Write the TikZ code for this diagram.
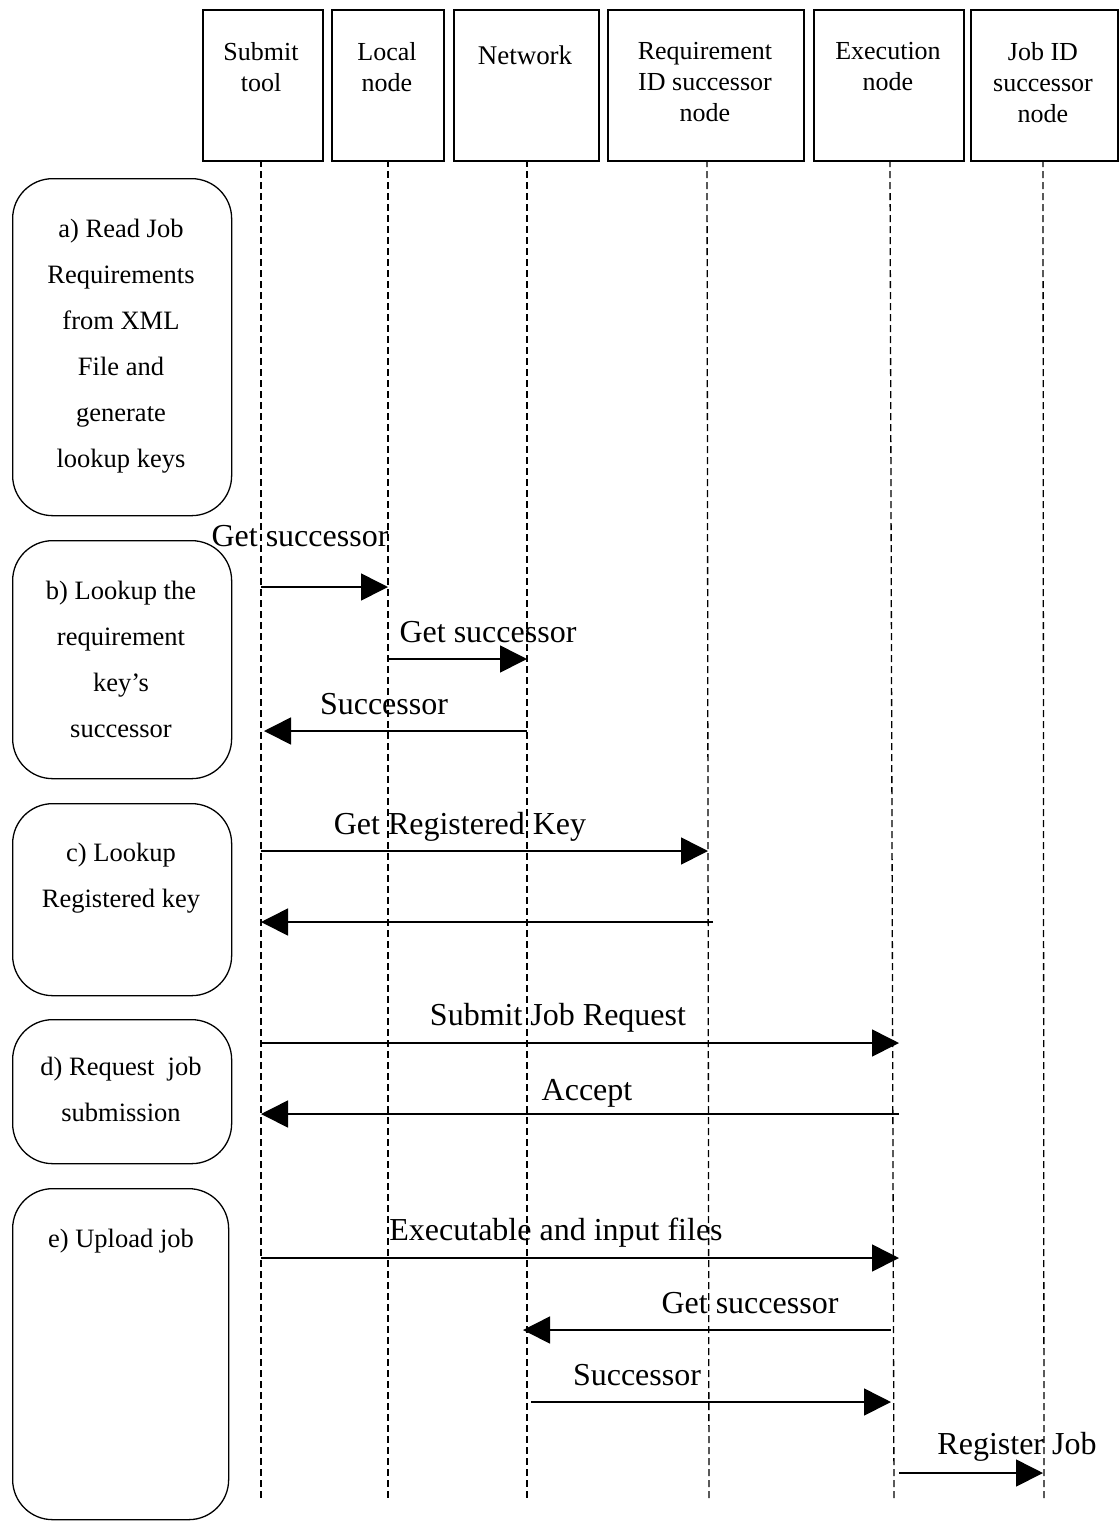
\documentclass[tikz,border=0pt]{standalone}
\usepackage{fontspec}
\setmainfont{Liberation Serif}
\usetikzlibrary{arrows.meta}
\begin{document}
\begin{tikzpicture}[x=1pt,y=-1pt,
  hdr/.style={draw,line width=1.6pt,anchor=north west,inner sep=0pt},
  htxt/.style={font=\fontsize{26}{31}\selectfont,align=center,anchor=north},
  life/.style={line width=1.3pt,dash pattern=on 7pt off 4pt},
  phase/.style={draw,line width=1.3pt,rounded corners=40pt,anchor=north west,inner sep=0pt},
  ptxt/.style={font=\fontsize{26.5}{46}\selectfont,align=center,anchor=north},
  msg/.style={line width=1.6pt,-{Triangle[length=27pt,width=27pt]}},
  lbl/.style={font=\fontsize{32}{34}\selectfont,inner sep=0pt,anchor=base}]
\useasboundingbox (0,0) rectangle (1119,1521);
% header boxes
\node[hdr,minimum width=120pt,minimum height=151pt] (hs) at (202,9) {};
\node[hdr,minimum width=112pt,minimum height=151pt] (hl) at (331,9) {};
\node[hdr,minimum width=145pt,minimum height=151pt] (hn) at (453,9) {};
\node[hdr,minimum width=196pt,minimum height=151pt] (hr) at (607,9) {};
\node[hdr,minimum width=150pt,minimum height=151pt] (he) at (813,9) {};
\node[hdr,minimum width=147pt,minimum height=151pt] (hj) at (970,9) {};
\node[htxt] (ths) at (261,39) {Submit\\tool};
\node[htxt] (thl) at (387,39) {Local\\node};
\node[htxt,font=\fontsize{27}{31}\selectfont] (thn) at (525,42) {Network};
\node[htxt] (thr) at (705,39) {Requirement\\ID successor\\node};
\node[htxt] (the) at (888,39) {Execution\\node};
\node[htxt] (thj) at (1043,39) {Job ID\\successor\\node};
% lifelines
\coordinate (ls) at (261,1498);
\coordinate (ll) at (388,1498);
\coordinate (ln) at (527,1498);
\coordinate (lr) at (709,1498);
\coordinate (le) at (894,1498);
\coordinate (lj) at (1044,1498);
\draw[life] (261,160) -- (ls);
\draw[life] (388,160) -- (ll);
\draw[life] (527,160) -- (ln);
\draw[life] (707,160) -- (lr);
\draw[life] (890,160) -- (le);
\draw[life] (1043,160) -- (lj);
% phase boxes
\node[phase,minimum width=219pt,minimum height=337pt] (pa) at (12,178) {};
\node[ptxt] (ta) at (121,216) {a) Read Job\\Requirements\\from XML\\File and\\generate\\lookup keys};
\node[phase,minimum width=219pt,minimum height=238pt] (pb) at (12,540) {};
\node[ptxt] (tb) at (121,578) {b) Lookup the\\requirement\\key's\\successor};
\node[phase,minimum width=219pt,minimum height=192pt] (pc) at (12,803) {};
\node[ptxt] (tc) at (121,840) {c) Lookup\\Registered key};
\node[phase,minimum width=219pt,minimum height=144pt] (pd) at (12,1019) {};
\node[ptxt] (td) at (121,1054) {d) Request\ \ job\\submission};
\node[phase,minimum width=216pt,minimum height=331pt] (pe) at (12,1188) {};
\node[ptxt] (te) at (121,1226) {e) Upload job};
% message endpoints
\coordinate (m1a) at (261,587);  \coordinate (m1b) at (388,587);
\coordinate (m2a) at (388,659);  \coordinate (m2b) at (527,659);
\coordinate (m3a) at (527,731);  \coordinate (m3b) at (264,731);
\coordinate (m4a) at (261,851);  \coordinate (m4b) at (708,851);
\coordinate (m5a) at (713,922);  \coordinate (m5b) at (261,922);
\coordinate (m6a) at (261,1043); \coordinate (m6b) at (899,1043);
\coordinate (m7a) at (899,1114); \coordinate (m7b) at (261,1114);
\coordinate (m8a) at (261,1258); \coordinate (m8b) at (899,1258);
\coordinate (m9a) at (891,1330); \coordinate (m9b) at (523,1330);
\coordinate (m10a) at (531,1402); \coordinate (m10b) at (891,1402);
\coordinate (m11a) at (899,1473); \coordinate (m11b) at (1043,1473);
\draw[msg] (m1a) -- (m1b);
\draw[msg] (m2a) -- (m2b);
\draw[msg] (m3a) -- (m3b);
\draw[msg] (m4a) -- (m4b);
\draw[msg] (m5a) -- (m5b);
\draw[msg] (m6a) -- (m6b);
\draw[msg] (m7a) -- (m7b);
\draw[msg] (m8a) -- (m8b);
\draw[msg] (m9a) -- (m9b);
\draw[msg] (m10a) -- (m10b);
\draw[msg] (m11a) -- (m11b);
% labels
\node[lbl] (l1) at (300,546) {Get successor};
\node[lbl] (l2) at (488,642) {Get successor};
\node[lbl] (l3) at (384,714) {Successor};
\node[lbl] (l4) at (460,834) {Get Registered Key};
\node[lbl] (l6) at (558,1025) {Submit Job Request};
\node[lbl] (l7) at (587,1100) {Accept};
\node[lbl] (l8) at (556,1240) {Executable and input files};
\node[lbl] (l9) at (750,1313) {Get successor};
\node[lbl] (l10) at (637,1385) {Successor};
\node[lbl] (l11) at (1017,1454) {Register Job};
\end{tikzpicture}
\end{document}
